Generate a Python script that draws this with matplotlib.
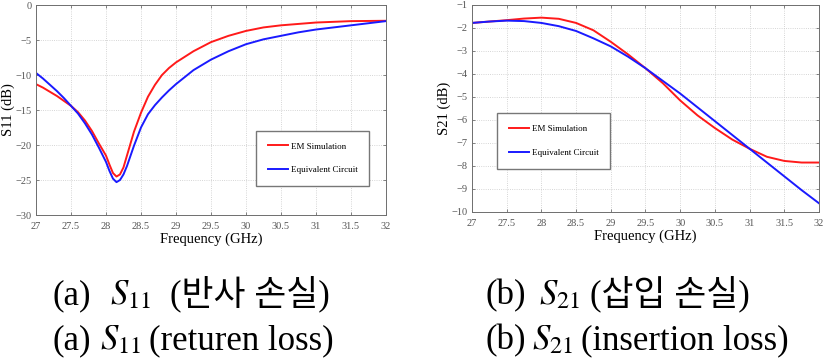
import matplotlib
matplotlib.use("Agg")
from matplotlib import pyplot as plt

# S11 (return loss)
freq_s11 = [27.0, 27.1, 27.2, 27.3, 27.4, 27.5, 27.6, 27.7, 27.8, 27.9, 28.0, 28.05, 28.1,
            28.15, 28.2, 28.25, 28.3, 28.4, 28.5, 28.6, 28.7, 28.8, 28.9, 29.0, 29.25, 29.5,
            29.75, 30.0, 30.25, 30.5, 30.75, 31.0, 31.5, 32.0]
s11_em = [-11.3, -11.8, -12.4, -13.0, -13.7, -14.4, -15.3, -16.5, -18.0, -19.8, -21.5, -22.8,
          -24.0, -24.5, -24.2, -23.2, -21.5, -18.1, -15.4, -13.1, -11.4, -10.0, -9.0, -8.2,
          -6.6, -5.3, -4.4, -3.7, -3.2, -2.9, -2.7, -2.5, -2.3, -2.25]
s11_ec = [-9.7, -10.5, -11.4, -12.3, -13.3, -14.4, -15.5, -16.9, -18.5, -20.4, -22.4, -23.7,
          -24.8, -25.3, -25.0, -24.2, -23.0, -20.1, -17.5, -15.6, -14.3, -13.2, -12.2, -11.3,
          -9.3, -7.8, -6.6, -5.6, -4.9, -4.4, -3.9, -3.5, -2.9, -2.3]

# S21 (insertion loss)
freq_s21 = [27.0, 27.25, 27.5, 27.75, 28.0, 28.25, 28.5, 28.75, 29.0, 29.25, 29.5, 29.75,
            30.0, 30.25, 30.5, 30.75, 31.0, 31.25, 31.5, 31.75, 32.0]
s21_em = [-1.78, -1.72, -1.66, -1.59, -1.55, -1.6, -1.78, -2.1, -2.6, -3.15, -3.75, -4.4,
          -5.15, -5.8, -6.35, -6.85, -7.25, -7.6, -7.78, -7.85, -7.85]
s21_ec = [-1.78, -1.72, -1.68, -1.7, -1.78, -1.92, -2.13, -2.45, -2.8, -3.25, -3.75, -4.3,
          -4.85, -5.45, -6.05, -6.65, -7.25, -7.85, -8.45, -9.05, -9.62]

freq_ticks = [27, 27.5, 28, 28.5, 29, 29.5, 30, 30.5, 31, 31.5, 32]
freq_labels = ["27", "27.5", "28", "28.5", "29", "29.5", "30", "30.5", "31", "31.5", "32"]

# caption pieces: (x pixel, text) for each line
caption_a1 = [(53, "(a)"), (110, "$S_{11}$"), (170, "(반사 손실)")]
caption_a2 = [(53, "(a)"), (100, "$S_{11}$"), (149, "(returen loss)")]
caption_b1 = [(486, "(b)"), (539, "$S_{21}$"), (590, "(삽입 손실)")]
caption_b2 = [(486, "(b)"), (532, "$S_{21}$"), (581, "(insertion loss)")]

SERIF = ["Liberation Serif", "Noto Sans CJK KR"]
W, H = 827, 359


def style_axes(ax, ylabel):
    ax.set_xlim(27, 32)
    ax.set_xticks(freq_ticks)
    ax.set_xticklabels(freq_labels)
    ax.grid(True, linestyle=":", color="#c8c8c8", linewidth=0.6)
    for sp in ax.spines.values():
        sp.set_color("#6e6e6e")
        sp.set_linewidth(0.7)
    ax.tick_params(labelsize=7.5, colors="#555555", length=2, width=0.5, pad=3,
                   direction="in", top=True, right=True)
    ax.tick_params(axis="x", pad=5)
    for lab in ax.get_xticklabels() + ax.get_yticklabels():
        lab.set_family(SERIF)
    ax.set_xlabel("Frequency (GHz)", family=SERIF, fontsize=10.5, labelpad=1)
    ax.set_ylabel(ylabel, family=SERIF, fontsize=10.5, labelpad=0.5)


def add_legend(ax, anchor):
    ax.legend(loc="upper left", bbox_to_anchor=anchor, prop={"family": SERIF, "size": 6.5},
              fancybox=False, edgecolor="#777777", framealpha=1, handlelength=2.2,
              borderpad=1.3, labelspacing=1.7, handletextpad=0.3)


def main():
    plt.rcParams["mathtext.fontset"] = "stix"
    fig = plt.figure(figsize=(8.27, 3.59), dpi=100)

    ax1 = fig.add_axes([0.0435, 0.401, 0.4232, 0.585])
    ax1.plot(freq_s11, s11_em, color="#ff1a1a", lw=1.4, label="EM Simulation")
    ax1.plot(freq_s11, s11_ec, color="#1a1aff", lw=1.4, label="Equivalent Circuit")
    ax1.set_ylim(-30, 0)
    ax1.set_yticks(range(-30, 1, 5))
    style_axes(ax1, "S11 (dB)")
    add_legend(ax1, (0.617, 0.424))

    ax2 = fig.add_axes([0.5707, 0.4095, 0.4196, 0.5766])
    ax2.plot(freq_s21, s21_em, color="#ff1a1a", lw=1.4, label="EM Simulation")
    ax2.plot(freq_s21, s21_ec, color="#1a1aff", lw=1.4, label="Equivalent Circuit")
    ax2.set_ylim(-10, -1)
    ax2.set_yticks(range(-10, 0))
    style_axes(ax2, "S21 (dB)")
    add_legend(ax2, (0.06, 0.498))

    for pieces, base in [(caption_a1, 304), (caption_a2, 349),
                         (caption_b1, 304), (caption_b2, 349)]:
        for x, txt in pieces:
            fig.text(x / W, 1 - base / H, txt, family=SERIF, fontsize=25,
                     va="baseline", ha="left")

    fig.savefig("out.png", dpi=100)


if __name__ == '__main__':
    main()
